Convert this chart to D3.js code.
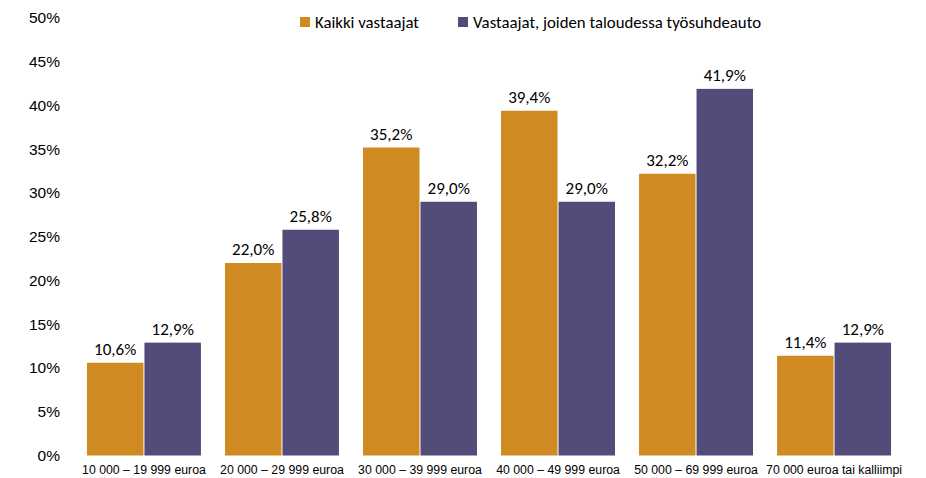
<!DOCTYPE html>
<html>
<head>
<meta charset="utf-8">
<script src="https://cdn.jsdelivr.net/npm/d3@7"></script>
<style>
  html, body { margin: 0; padding: 0; background: #fff; }
  svg { display: block; font-family: Carlito, Calibri, Lato, sans-serif; }
</style>
</head>
<body>
<div id="chart"></div>
<script>
var categories = ["10 000 \u2013 19 999 euroa", "20 000 \u2013 29 999 euroa", "30 000 \u2013 39 999 euroa",
                  "40 000 \u2013 49 999 euroa", "50 000 \u2013 69 999 euroa", "70 000 euroa tai kalliimpi"];
var seriesNames = ["Kaikki vastaajat", "Vastaajat, joiden taloudessa ty\u00f6suhdeauto"];
var kaikki = [10.6, 22.0, 35.2, 39.4, 32.2, 11.4];
var tyosuhde = [12.9, 25.8, 29.0, 29.0, 41.9, 12.9];
var yTicks = [0, 5, 10, 15, 20, 25, 30, 35, 40, 45, 50];
var colors = ["#CF8B22", "#524C7B"];

var width = 926, height = 478;
var fmt = function (v) { return v.toFixed(1).replace(".", ",") + "%"; };

var svg = d3.select("#chart").append("svg")
    .attr("width", width)
    .attr("height", height);

var x = d3.scaleBand()
    .domain(categories)
    .range([75, 903])
    .paddingInner(0.167)
    .paddingOuter(0.083);

var x1 = d3.scaleBand()
    .domain([0, 1])
    .range([0, x.bandwidth()]);

var y = d3.scaleLinear()
    .domain([0, 50])
    .range([455.5, 18]);

// y axis labels, no line
var yAxis = d3.axisLeft(y)
    .tickValues(yTicks)
    .tickFormat(function (d) { return d + "%"; })
    .tickSize(0)
    .tickPadding(0);

svg.append("g")
    .attr("transform", "translate(60,0)")
    .call(yAxis)
    .call(function (g) { g.select(".domain").remove(); })
    .selectAll("text")
    .attr("font-size", 15.5)
    .attr("font-family", null)
    .attr("fill", "#000");

// x axis labels
var xAxis = d3.axisBottom(x).tickSize(0).tickPadding(0);
svg.append("g")
    .attr("transform", "translate(0,465)")
    .call(xAxis)
    .call(function (g) { g.select(".domain").remove(); })
    .selectAll("text")
    .attr("font-size", 12.3)
    .attr("font-family", null)
    .attr("fill", "#000");

var data = categories.map(function (c, i) {
    return {cat: c, values: [kaikki[i], tyosuhde[i]]};
});

var groups = svg.append("g").selectAll("g")
    .data(data)
    .join("g")
    .attr("transform", function (d) { return "translate(" + x(d.cat) + ",0)"; });

groups.selectAll("rect")
    .data(function (d) { return d.values.map(function (v, k) { return {k: k, v: v}; }); })
    .join("rect")
    .attr("x", function (d) { return x1(d.k) + 0.5; })
    .attr("width", x1.bandwidth() - 1)
    .attr("y", function (d) { return y(d.v); })
    .attr("height", function (d) { return y(0) - y(d.v); })
    .attr("fill", function (d) { return colors[d.k]; });

groups.selectAll("text")
    .data(function (d) { return d.values.map(function (v, k) { return {k: k, v: v}; }); })
    .join("text")
    .attr("x", function (d) { return x1(d.k) + x1.bandwidth() / 2; })
    .attr("y", function (d) { return y(d.v) - 8; })
    .attr("text-anchor", "middle")
    .attr("font-size", 17)
    .attr("fill", "#000")
    .text(function (d) { return fmt(d.v); });

// legend
var legendX = [300, 458];
var legend = svg.append("g").selectAll("g")
    .data(seriesNames)
    .join("g")
    .attr("transform", function (d, i) { return "translate(" + legendX[i] + ",17)"; });

legend.append("rect")
    .attr("width", 10)
    .attr("height", 10)
    .attr("fill", function (d, i) { return colors[i]; });

legend.append("text")
    .attr("x", 15)
    .attr("y", 11)
    .attr("font-size", 16.8)
    .attr("fill", "#000")
    .text(function (d) { return d; });
</script>
</body>
</html>
